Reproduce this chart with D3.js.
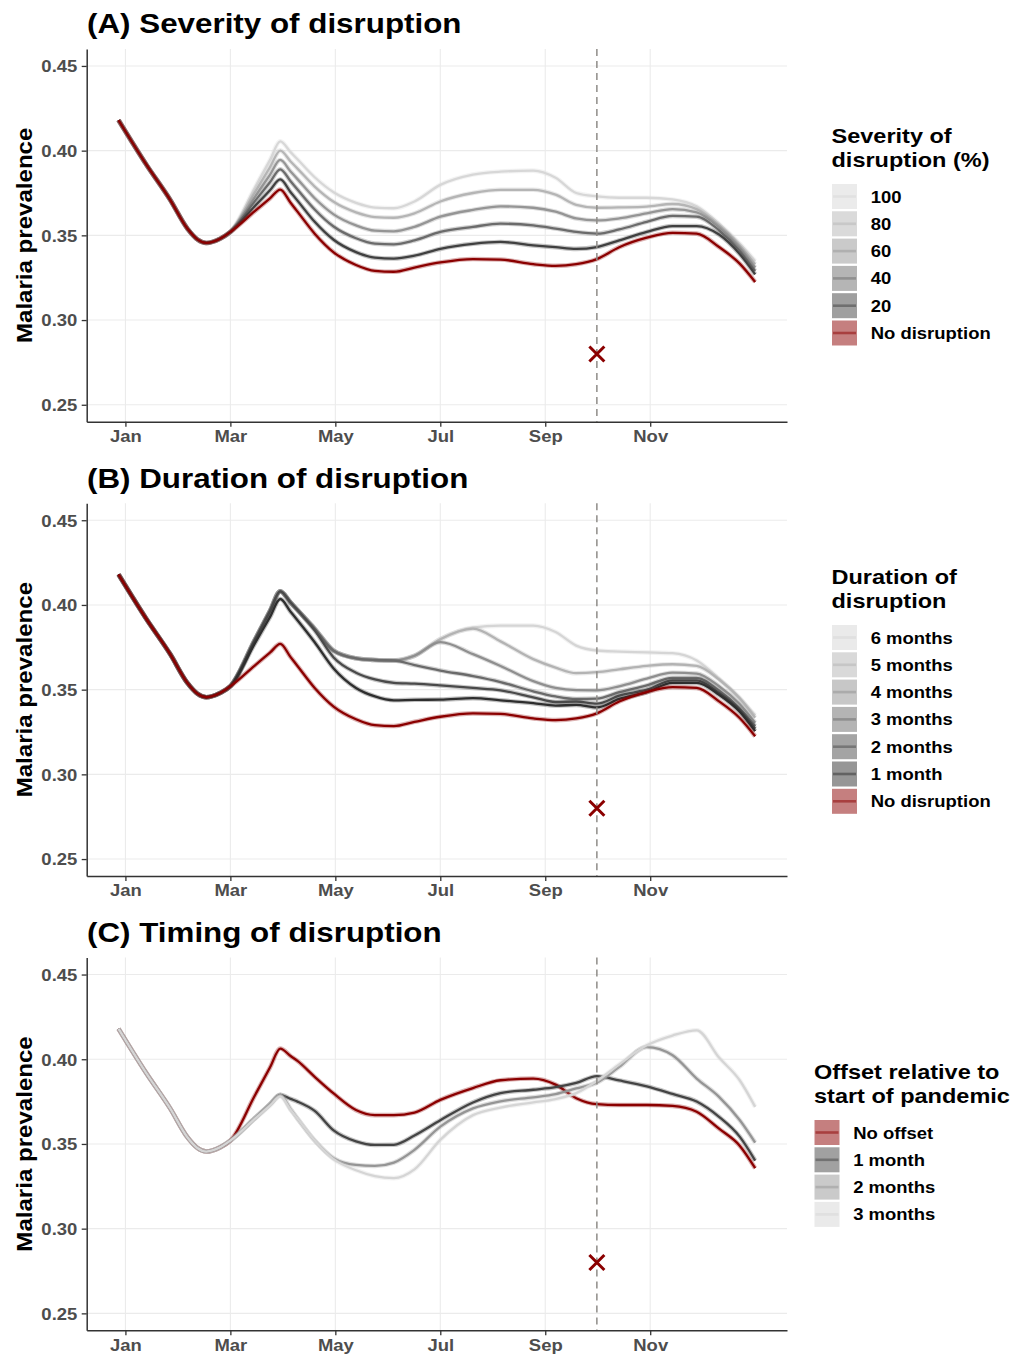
<!DOCTYPE html>
<html>
<head>
<meta charset="utf-8">
<script src="https://cdn.jsdelivr.net/npm/d3@7"></script>
<style>
  body { margin: 0; background: #fff; }
  svg text { font-family: "Liberation Sans", Arial, Helvetica, sans-serif; font-weight: bold; }
</style>
</head>
<body>
<svg id="chart" width="1027" height="1354"></svg>
<script>
/**
 * DATA
 */
const days = [-4, 12, 26, 36, 42, 47, 55, 61, 75, 84, 90, 96, 100, 110, 121, 134, 145, 156, 168, 183, 202, 218, 237, 250, 262, 274, 287, 303, 318, 332, 345, 357, 366];

const monthTicks = [0, 61, 122, 183, 244, 305];
const monthLabels = ["Jan", "Mar", "May", "Jul", "Sep", "Nov"];
const yTicks = [0.25, 0.30, 0.35, 0.40, 0.45];

const pandemicDay = 274;
const pandemicMarker = 0.28;

// (A) severity
const noDisruption = [0.418, 0.392, 0.371, 0.354, 0.3475, 0.3455, 0.348, 0.352, 0.3641, 0.3718, 0.377, 0.3692, 0.364, 0.351, 0.340, 0.3325, 0.329, 0.3285, 0.331, 0.334, 0.336, 0.3357, 0.333, 0.332, 0.333, 0.336, 0.343, 0.3486, 0.3515, 0.351, 0.3431, 0.3333, 0.3225];
const sev100 = [0.418, 0.392, 0.371, 0.354, 0.3475, 0.3455, 0.348, 0.352, 0.3778, 0.3944, 0.4055, 0.3991, 0.3949, 0.3843, 0.3754, 0.3692, 0.3664, 0.366, 0.370, 0.3798, 0.3859, 0.3876, 0.3882, 0.384, 0.375, 0.373, 0.3722, 0.3722, 0.3712, 0.3671, 0.3569, 0.3451, 0.3349];
const sev80 = [0.418, 0.392, 0.371, 0.354, 0.3475, 0.3455, 0.348, 0.352, 0.3752, 0.3901, 0.400, 0.3936, 0.3894, 0.3788, 0.3698, 0.3636, 0.3608, 0.3604, 0.363, 0.370, 0.375, 0.3769, 0.3769, 0.374, 0.368, 0.3663, 0.3665, 0.367, 0.3685, 0.3655, 0.356, 0.344, 0.333];
const sev60 = [0.418, 0.392, 0.371, 0.354, 0.3475, 0.3455, 0.348, 0.352, 0.3724, 0.3857, 0.3945, 0.3877, 0.3832, 0.3719, 0.3624, 0.3559, 0.3528, 0.3524, 0.355, 0.361, 0.365, 0.3671, 0.3663, 0.364, 0.360, 0.3588, 0.360, 0.363, 0.3655, 0.3635, 0.355, 0.343, 0.331];
const sev40 = [0.418, 0.392, 0.371, 0.354, 0.3475, 0.3455, 0.348, 0.352, 0.3699, 0.3813, 0.389, 0.3819, 0.3771, 0.3653, 0.3552, 0.3483, 0.3451, 0.3447, 0.347, 0.352, 0.355, 0.3569, 0.3559, 0.354, 0.352, 0.351, 0.3535, 0.358, 0.3615, 0.361, 0.353, 0.341, 0.329];
const sev20 = [0.418, 0.392, 0.371, 0.354, 0.3475, 0.3455, 0.348, 0.352, 0.3670, 0.3766, 0.383, 0.3755, 0.3705, 0.358, 0.3474, 0.3401, 0.3368, 0.3363, 0.338, 0.342, 0.345, 0.3461, 0.3441, 0.343, 0.342, 0.3431, 0.347, 0.352, 0.3555, 0.3555, 0.3505, 0.339, 0.327];
const severityLabels = ["100", "80", "60", "40", "20", "No disruption"];

// (B) duration
const dur6 = [0.418, 0.392, 0.371, 0.354, 0.3475, 0.3455, 0.348, 0.352, 0.379, 0.3964, 0.408, 0.4014, 0.397, 0.386, 0.373, 0.3685, 0.3675, 0.3672, 0.370, 0.3798, 0.3866, 0.3878, 0.3878, 0.384, 0.376, 0.3731, 0.3725, 0.372, 0.3715, 0.3672, 0.3565, 0.3445, 0.3349];
const dur5 = [0.418, 0.392, 0.371, 0.354, 0.3475, 0.3455, 0.348, 0.352, 0.379, 0.3964, 0.408, 0.4014, 0.397, 0.386, 0.373, 0.3685, 0.3675, 0.3672, 0.370, 0.3798, 0.386, 0.3785, 0.368, 0.363, 0.3597, 0.3603, 0.362, 0.364, 0.365, 0.364, 0.356, 0.345, 0.3335];
const dur4 = [0.418, 0.392, 0.371, 0.354, 0.3475, 0.3455, 0.348, 0.352, 0.379, 0.3964, 0.408, 0.4014, 0.397, 0.386, 0.373, 0.3685, 0.3675, 0.3672, 0.370, 0.378, 0.371, 0.364, 0.355, 0.351, 0.3497, 0.3496, 0.352, 0.3565, 0.360, 0.3595, 0.352, 0.3415, 0.3305];
const dur3 = [0.418, 0.392, 0.371, 0.354, 0.3475, 0.3455, 0.348, 0.352, 0.379, 0.3964, 0.408, 0.4014, 0.397, 0.386, 0.373, 0.3685, 0.3675, 0.3672, 0.3645, 0.3613, 0.358, 0.3545, 0.349, 0.346, 0.3445, 0.3447, 0.3485, 0.3525, 0.357, 0.357, 0.3495, 0.339, 0.3285];
const dur2 = [0.418, 0.392, 0.371, 0.354, 0.3475, 0.3455, 0.348, 0.352, 0.379, 0.3964, 0.408, 0.4014, 0.397, 0.385, 0.369, 0.360, 0.356, 0.354, 0.3535, 0.3525, 0.351, 0.3496, 0.3455, 0.3427, 0.343, 0.3417, 0.3465, 0.350, 0.3555, 0.3555, 0.348, 0.338, 0.327];
const dur1 = [0.418, 0.392, 0.371, 0.354, 0.3475, 0.3455, 0.348, 0.352, 0.3769, 0.3928, 0.4035, 0.396, 0.391, 0.378, 0.3625, 0.351, 0.346, 0.3437, 0.344, 0.3441, 0.345, 0.3437, 0.342, 0.3406, 0.341, 0.3395, 0.3445, 0.3485, 0.354, 0.354, 0.347, 0.337, 0.3255];
const durationLabels = ["6 months", "5 months", "4 months", "3 months", "2 months", "1 month", "No disruption"];

// (C) timing
const offset0 = [0.418, 0.392, 0.371, 0.354, 0.3475, 0.3455, 0.348, 0.352, 0.3782, 0.3951, 0.4063, 0.4019, 0.399, 0.3896, 0.3798, 0.370, 0.367, 0.367, 0.3685, 0.376, 0.383, 0.3876, 0.3886, 0.385, 0.377, 0.3735, 0.373, 0.373, 0.3725, 0.369, 0.359, 0.349, 0.3357];
const offset1 = [0.418, 0.392, 0.371, 0.354, 0.3475, 0.3455, 0.348, 0.352, 0.365, 0.3734, 0.379, 0.3766, 0.375, 0.3695, 0.358, 0.3515, 0.3494, 0.3495, 0.355, 0.364, 0.3745, 0.380, 0.382, 0.3835, 0.386, 0.390, 0.3875, 0.384, 0.3795, 0.375, 0.366, 0.3543, 0.3402];
const offset2 = [0.418, 0.392, 0.371, 0.354, 0.3475, 0.3455, 0.348, 0.352, 0.365, 0.3734, 0.379, 0.3706, 0.365, 0.352, 0.3416, 0.3376, 0.337, 0.339, 0.3465, 0.3602, 0.371, 0.3752, 0.3775, 0.3794, 0.3828, 0.3862, 0.3955, 0.4072, 0.4024, 0.3886, 0.3778, 0.3641, 0.3508];
const offset3 = [0.418, 0.392, 0.371, 0.354, 0.3475, 0.3455, 0.348, 0.352, 0.3646, 0.3726, 0.378, 0.3702, 0.365, 0.352, 0.341, 0.3345, 0.331, 0.3298, 0.335, 0.3524, 0.367, 0.3715, 0.3745, 0.3765, 0.380, 0.3872, 0.397, 0.4082, 0.414, 0.4171, 0.401, 0.3876, 0.3719];
const offsetLabels = ["No offset", "1 month", "2 months", "3 months"];

/**
 * LAYOUT
 */
const K = 1.12;            // the original text is set a little wide
const plotLeft = 86.7, plotRight = 787;
const plotTop = 49, plotBottom = 421.7, panelStep = 454.3;
const RED = "#8b0000";

const panels = [
  {
    title: "(A) Severity of disruption",
    legendTitle: ["Severity of", "disruption (%)"],
    labels: severityLabels,
    series: [sev100, sev80, sev60, sev40, sev20, noDisruption],
    colors: ["#d7d7d7", "#b5b5b5", "#959595", "#6b6b6b", "#404040", RED],
    legendX: 832, keyTop: 184
  },
  {
    title: "(B) Duration of disruption",
    legendTitle: ["Duration of", "disruption"],
    labels: durationLabels,
    series: [dur6, dur5, dur4, dur3, dur2, dur1, noDisruption],
    colors: ["#d5d5d5", "#b3b3b3", "#8f8f8f", "#6a6a6a", "#4a4a4a", "#2e2e2e", RED],
    legendX: 832, keyTop: 625
  },
  {
    title: "(C) Timing of disruption",
    legendTitle: ["Offset relative to", "start of pandemic"],
    labels: offsetLabels,
    series: [offset0, offset1, offset2, offset3],
    colors: [RED, "#444444", "#959595", "#d5d5d5"],
    legendX: 814.5, keyTop: 1120
  }
];

const svg = d3.select("#chart");
svg.append("rect").attr("width", 1027).attr("height", 1354).attr("fill", "#fff");

const x = d3.scaleLinear().domain([-22.5, 384.5]).range([plotLeft, plotRight]);

/**
 * WIDE TEXT HELPER
 */
function wideText(g, str, tx, ty, size, opts = {}) {
  const rot = opts.rotate ? ` rotate(${opts.rotate})` : "";
  return g.append("text")
    .attr("transform", `translate(${tx},${ty})${rot} scale(${K},1)`)
    .attr("text-anchor", opts.anchor || "start")
    .attr("font-size", size)
    .attr("fill", opts.fill || "#000")
    .text(str);
}

/**
 * DRAW ONE PANEL
 */
function drawPanel(p, i) {
  const off = i * panelStep;
  const top = plotTop + off, bottom = plotBottom + off;
  const y = d3.scaleLinear().domain([0.24, 0.46]).range([bottom, top]);
  const g = svg.append("g");

  // grid
  g.selectAll(".gy").data(yTicks).join("line")
    .attr("x1", plotLeft).attr("x2", plotRight)
    .attr("y1", d => y(d)).attr("y2", d => y(d))
    .attr("stroke", "#ebebeb").attr("stroke-width", 1.1);
  g.selectAll(".gx").data(monthTicks).join("line")
    .attr("x1", d => x(d)).attr("x2", d => x(d))
    .attr("y1", top).attr("y2", bottom)
    .attr("stroke", "#ebebeb").attr("stroke-width", 1.1);

  // lines (ribbon-ish halo + line)
  const line = d3.line()
    .x((d, k) => x(days[k]))
    .y(d => y(d))
    .curve(d3.curveMonotoneX);

  p.series.forEach((s, j) => {
    g.append("path").attr("d", line(s)).attr("fill", "none")
      .attr("stroke", p.colors[j]).attr("stroke-width", 4.6).attr("stroke-opacity", 0.3);
    g.append("path").attr("d", line(s)).attr("fill", "none")
      .attr("stroke", p.colors[j]).attr("stroke-width", 2.3)
      .attr("stroke-linejoin", "round");
  });

  // start of pandemic
  g.append("line")
    .attr("x1", x(pandemicDay)).attr("x2", x(pandemicDay))
    .attr("y1", top).attr("y2", bottom)
    .attr("stroke", "#8f8c88").attr("stroke-width", 1.5)
    .attr("stroke-dasharray", "7,5");

  const mx = x(pandemicDay), my = y(pandemicMarker), r = 7.5;
  g.append("path")
    .attr("d", `M${mx - r},${my - r}L${mx + r},${my + r}M${mx - r},${my + r}L${mx + r},${my - r}`)
    .attr("stroke", RED).attr("stroke-width", 3).attr("fill", "none");

  // axes
  const yAxis = g.append("g")
    .attr("transform", `translate(${plotLeft},0)`)
    .call(d3.axisLeft(y).tickValues(yTicks).tickFormat(d3.format(".2f")).tickSize(5).tickSizeOuter(0));
  const xAxis = g.append("g")
    .attr("transform", `translate(0,${bottom})`)
    .call(d3.axisBottom(x).tickValues(monthTicks).tickFormat((d, k) => monthLabels[k]).tickSize(5).tickSizeOuter(0));

  [yAxis, xAxis].forEach(a => {
    a.select(".domain").attr("stroke", "#333").attr("stroke-width", 1.5);
    a.selectAll(".tick line").attr("stroke", "#333").attr("stroke-width", 1.3);
    a.selectAll(".tick text").attr("font-size", 16.5).attr("fill", "#4d4d4d")
      .attr("x", null).attr("y", null).attr("dy", null);
  });
  yAxis.selectAll(".tick text").attr("transform", `translate(-9.4,5.9) scale(${K},1)`);
  xAxis.selectAll(".tick text").attr("transform", `translate(0,20.4) scale(${K},1)`);

  // titles
  wideText(g, p.title, 87, 33.3 + off, 28);
  wideText(g, "Malaria prevalence", 31.5, (top + bottom) / 2, 21.5, { rotate: -90, anchor: "middle" });

  // legend
  const lx = p.legendX, kt = p.keyTop;
  wideText(g, p.legendTitle[0], lx - 0.5, kt - 41, 21);
  wideText(g, p.legendTitle[1], lx - 0.5, kt - 17.5, 21);

  p.labels.forEach((lab, j) => {
    const ky = kt + j * 27.3;
    g.append("rect").attr("x", lx).attr("y", ky).attr("width", 25).attr("height", 25)
      .attr("fill", p.colors[j]).attr("fill-opacity", 0.5);
    g.append("line").attr("x1", lx + 1).attr("x2", lx + 24)
      .attr("y1", ky + 12.5).attr("y2", ky + 12.5)
      .attr("stroke", p.colors[j]).attr("stroke-opacity", 0.5).attr("stroke-width", 2.6);
    wideText(g, lab, lx + 38.7, ky + 18.5, 16.5);
  });
}

panels.forEach(drawPanel);
</script>
</body>
</html>
